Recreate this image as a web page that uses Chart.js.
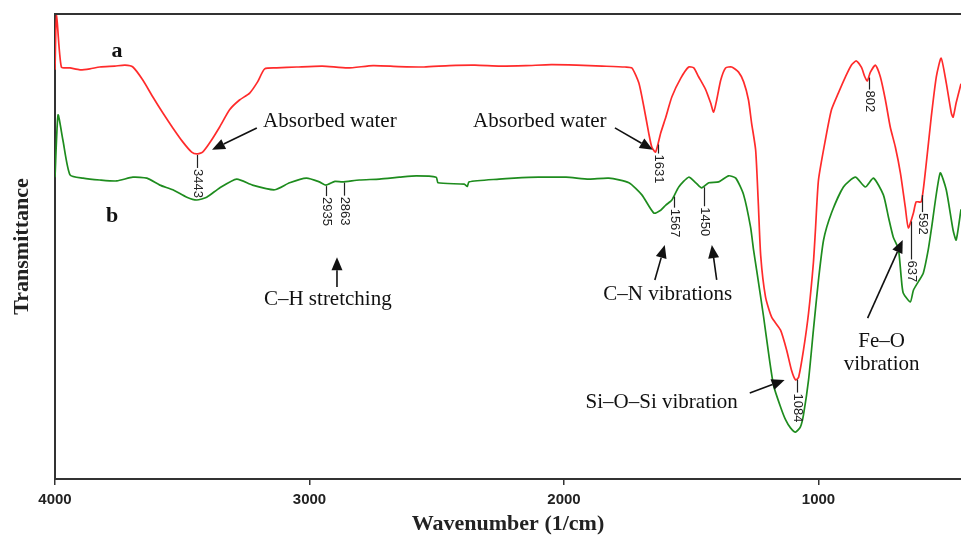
<!DOCTYPE html>
<html lang="en">
<head>
<meta charset="UTF-8">
<title>FTIR spectra</title>
<script src="https://cdn.jsdelivr.net/npm/chart.js@4.4.0/dist/chart.umd.min.js"></script>
<style>
  html, body { margin: 0; padding: 0; background: #fff; }
  #wrap { width: 961px; height: 538px; }
</style>
</head>
<body>
<div id="wrap"><canvas id="ftirChart" width="961" height="538"></canvas></div>
<script>
// spectrum a (red): wavenumber 1/cm and transmittance
var wnA = [4000, 3994, 3975, 3941, 3902, 3863, 3824, 3765, 3725, 3694, 3655, 3616, 3576, 3537, 3498, 3463, 3443, 3420,
    3392, 3353, 3314, 3275, 3235, 3204, 3176, 3129, 3050, 2950, 2850, 2750, 2650, 2550, 2450, 2350, 2250, 2150, 2050,
    1950, 1850, 1760, 1733, 1706, 1686, 1667, 1655, 1640, 1620, 1600, 1576, 1541, 1510, 1490, 1471, 1443, 1424, 1412,
    1400, 1384, 1365, 1341, 1314, 1294, 1275, 1263, 1247, 1237, 1227, 1208, 1184, 1149, 1125, 1106, 1090, 1078, 1059,
    1039, 1020, 1012, 1000, 973, 949, 922, 894, 871, 851, 831, 818, 808, 796, 776, 757, 737, 718, 698, 678, 659, 647,
    627, 616, 596, 578, 557, 537, 518, 498, 478, 471, 459, 440];
var trA = [88.0, 100, 88.6, 88.4, 88.0, 88.2, 88.6, 88.8, 89.0, 88.6, 85.8, 82.2, 78.7, 75.5, 72.5, 70.3, 69.9, 70.3,
    72.3, 75.7, 79.4, 81.5, 83.0, 85.4, 88.2, 88.4, 88.6, 88.8, 88.4, 88.9, 88.7, 88.6, 88.9, 89.0, 88.8, 88.9, 89.1,
    89.0, 88.8, 88.6, 88.4, 85.2, 80.0, 74.4, 71.4, 70.3, 74.4, 77.8, 82.2, 86.2, 88.6, 88.4, 86.5, 83.7, 80.9, 78.9,
    81.5, 85.8, 88.4, 88.6, 87.5, 85.4, 81.5, 76.6, 70.8, 60.0, 48.0, 39.1, 34.8, 32.0, 27.7, 23.4, 21.3, 21.9, 27.7,
    35.7, 46.5, 53.5, 64.3, 72.9, 79.4, 83.0, 86.5, 89.0, 89.9, 88.5, 86.5, 85.6, 87.5, 89.0, 86.5, 81.5, 75.7, 71.4, 65.8, 58.5, 54.0,
    57.2, 59.6, 59.6, 67.1, 77.8, 86.5, 90.5, 85.2, 78.7, 77.8, 80.9, 85.0];

// spectrum b (green)
var wnB = [4000, 3988, 3969, 3941, 3890, 3824, 3757, 3694, 3639, 3588, 3537, 3482, 3443, 3404, 3353, 3286, 3224, 3137,
    3078, 3012, 2961, 2935, 2900, 2871, 2804, 2725, 2647, 2580, 2502, 2495, 2392, 2380, 2373, 2255, 2196, 2100, 1992,
    1902, 1824, 1745, 1694, 1647, 1620, 1600, 1576, 1549, 1510, 1482, 1459, 1431, 1392, 1353, 1325, 1294, 1267, 1255,
    1243, 1216, 1196, 1176, 1149, 1129, 1110, 1090, 1071, 1059, 1039, 1020, 1000, 980, 949, 902, 855, 816, 784, 745,
    725, 706, 686, 675, 667, 639, 627, 608, 588, 569, 557, 522, 498, 471, 459, 440];
var trB = [64.9, 78.3, 72.9, 65.4, 64.7, 64.3, 64.1, 64.9, 64.7, 63.2, 62.2, 60.6, 60.0, 60.6, 62.6, 64.5, 63.2, 62.2,
    63.7, 64.7, 63.9, 63.2, 64.0, 63.9, 64.3, 64.5, 64.9, 65.2, 64.9, 63.7, 63.4, 62.9, 63.9, 64.5, 64.7, 64.9, 64.9,
    64.5, 64.7, 63.7, 61.1, 57.2, 57.8, 58.9, 60.0, 62.8, 64.9, 63.7, 62.6, 63.7, 63.9, 65.2, 64.7, 61.1, 54.2, 49.2,
    44.9, 35.0, 27.0, 20.0, 15.5, 12.7, 11.0, 10.1, 11.2, 13.8, 21.3, 32.0, 42.8, 51.4, 57.2, 62.8, 64.9, 62.8, 64.7, 61.1,
    56.3, 52.0, 49.5, 43.4, 40.0, 38.1, 40.6, 42.4, 44.3, 49.2, 53.5, 65.8, 62.2, 53.5, 51.4, 58.0];

var xTicks = [4000, 3000, 2000, 1000];

// marked peak positions and the spectrum each one sits on
var peakWn = [3443, 2935, 2863, 1631, 1567, 1450, 1084, 802, 637, 592];
var peakOn = ['a', 'b', 'b', 'a', 'b', 'b', 'a', 'a', 'a', 'a'];
var peakLead = [13, 10, 13, 9, 11, 19, 13, 12, 38, 17];

// text notes: [text, wavenumber, transmittance at baseline, font]
var serif = '"Liberation Serif", "Times New Roman", serif';
var notes = [
    ['a', 3756, 90.8, 'bold 22px ' + serif],
    ['b', 3776, 55.3, 'bold 22px ' + serif],
    ['Absorbed water', 2920, 75.7, '21px ' + serif],
    ['Absorbed water', 2095, 75.7, '21px ' + serif],
    ['C\u2013H stretching', 2928, 37.4, '21px ' + serif],
    ['C\u2013N vibrations', 1592, 38.5, '21px ' + serif],
    ['Si\u2013O\u2013Si vibration', 1616, 15.3, '21px ' + serif],
    ['Fe\u2013O', 752, 28.4, '21px ' + serif],
    ['vibration', 752, 23.4, '21px ' + serif]
];
// arrows: from (wn, tr) to tip (wn, tr)
var arrows = [
    [3207, 75.5, 3383, 70.8],
    [1800, 75.5, 1651, 70.8],
    [2892, 41.3, 2892, 47.7],
    [1643, 42.8, 1604, 50.3],
    [1400, 42.8, 1419, 50.3],
    [1270, 18.5, 1133, 21.3],
    [807, 34.6, 669, 51.4]
];

function toPoints(wn, tr) {
    var out = [];
    for (var i = 0; i < wn.length; i++) out.push({x: wn[i], y: tr[i]});
    return out;
}

function levelAt(wn, tr, w) {
    for (var i = 0; i < wn.length - 1; i++) {
        if (wn[i] >= w && wn[i + 1] <= w) {
            var f = (wn[i] - w) / (wn[i] - wn[i + 1]);
            return tr[i] + f * (tr[i + 1] - tr[i]);
        }
    }
    return tr[tr.length - 1];
}

function drawArrow(ctx, x0, y0, x1, y1) {
    var ang = Math.atan2(y1 - y0, x1 - x0), len = 13, hw = 5.5;
    var bx = x1 - len * Math.cos(ang), by = y1 - len * Math.sin(ang);
    ctx.beginPath();
    ctx.moveTo(x0, y0);
    ctx.lineTo(bx, by);
    ctx.stroke();
    ctx.beginPath();
    ctx.moveTo(x1, y1);
    ctx.lineTo(bx - hw * Math.sin(ang), by + hw * Math.cos(ang));
    ctx.lineTo(bx + hw * Math.sin(ang), by - hw * Math.cos(ang));
    ctx.closePath();
    ctx.fill();
}

var annotate = {
    id: 'annotate',
    afterDraw: function (chart) {
        var ctx = chart.ctx, xs = chart.scales.x, ys = chart.scales.y, area = chart.chartArea;
        ctx.save();
        // top frame
        ctx.strokeStyle = '#333';
        ctx.lineWidth = 2;
        ctx.beginPath();
        ctx.moveTo(area.left, area.top);
        ctx.lineTo(area.right, area.top);
        ctx.stroke();

        // peak marks
        ctx.strokeStyle = '#222';
        ctx.fillStyle = '#222';
        ctx.lineWidth = 1.2;
        ctx.font = '13px "Liberation Sans", Arial, sans-serif';
        for (var i = 0; i < peakWn.length; i++) {
            var lv = peakOn[i] == 'a' ? levelAt(wnA, trA, peakWn[i]) : levelAt(wnB, trB, peakWn[i]);
            var px = Math.round(xs.getPixelForValue(peakWn[i])) + 0.5;
            var py = ys.getPixelForValue(lv) + 1;
            ctx.beginPath();
            ctx.moveTo(px, py);
            ctx.lineTo(px, py + peakLead[i]);
            ctx.stroke();
            ctx.save();
            ctx.translate(px, py + peakLead[i] + 1);
            ctx.rotate(Math.PI / 2);
            ctx.textAlign = 'left';
            ctx.textBaseline = 'middle';
            ctx.fillText(String(peakWn[i]), 0, 0);
            ctx.restore();
        }

        // notes
        ctx.fillStyle = '#111';
        ctx.textAlign = 'center';
        ctx.textBaseline = 'alphabetic';
        notes.forEach(function (n) {
            ctx.font = n[3];
            ctx.fillText(n[0], xs.getPixelForValue(n[1]), ys.getPixelForValue(n[2]));
        });

        // arrows
        ctx.strokeStyle = '#111';
        ctx.lineWidth = 1.6;
        arrows.forEach(function (a) {
            drawArrow(ctx, xs.getPixelForValue(a[0]), ys.getPixelForValue(a[1]),
                xs.getPixelForValue(a[2]), ys.getPixelForValue(a[3]));
        });
        ctx.restore();
    }
};

var ctx = document.getElementById('ftirChart');
var chart = new Chart(ctx, {
    type: 'line',
    data: {
        datasets: [{
            label: 'a',
            data: toPoints(wnA, trA),
            borderColor: '#ff2b2b',
            borderWidth: 1.7,
            pointRadius: 0,
            tension: 0.2,
            fill: false
        }, {
            label: 'b',
            data: toPoints(wnB, trB),
            borderColor: '#1e8c1e',
            borderWidth: 1.7,
            pointRadius: 0,
            tension: 0.2,
            fill: false
        }]
    },
    options: {
        responsive: false,
        animation: false,
        devicePixelRatio: 1,
        layout: {padding: {top: 14, right: 0, bottom: 0, left: 0}},
        plugins: {
            legend: {display: false},
            tooltip: {enabled: false}
        },
        scales: {
            x: {
                type: 'linear',
                reverse: true,
                min: 440,
                max: 4000,
                afterBuildTicks: function (scale) {
                    scale.ticks = xTicks.map(function (v) { return {value: v}; });
                },
                afterFit: function (scale) { scale.height = 59; },
                grid: {display: true, drawOnChartArea: false, drawTicks: true, tickLength: 6, color: '#333', lineWidth: 1.5},
                border: {display: true, color: '#333', width: 2},
                ticks: {
                    color: '#222',
                    padding: 6,
                    maxRotation: 0,
                    font: {family: '"Liberation Sans", Arial, sans-serif', size: 15, weight: 'bold'},
                    callback: function (v) { return String(v); }
                },
                title: {
                    display: true,
                    text: 'Wavenumber (1/cm)',
                    color: '#222',
                    padding: {top: 0, bottom: 0},
                    font: {family: serif, size: 22, weight: 'bold'}
                }
            },
            y: {
                min: 0,
                max: 100,
                afterFit: function (scale) { scale.width = 55; },
                grid: {display: false},
                border: {display: true, color: '#333', width: 2},
                ticks: {display: false},
                title: {
                    display: true,
                    text: 'Transmittance',
                    color: '#222',
                    padding: {top: 9, bottom: 0},
                    font: {family: serif, size: 22, weight: 'bold'}
                }
            }
        }
    },
    plugins: [annotate]
});
</script>
</body>
</html>
